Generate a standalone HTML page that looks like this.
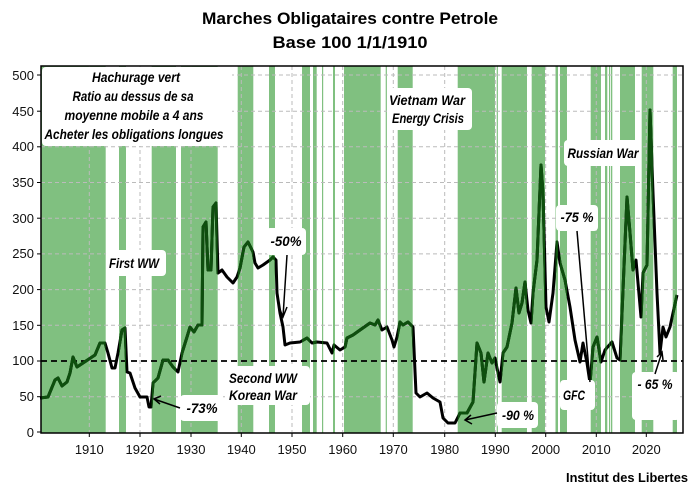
<!DOCTYPE html>
<html><head><meta charset="utf-8"><style>
body{margin:0;background:#fff}
svg{display:block}
text{font-family:"Liberation Sans",sans-serif}
.lab{font-weight:bold;font-style:italic;font-size:14px;text-anchor:middle}
.ax{font-size:13px;fill:#111}
</style></head><body>
<svg width="700" height="497" viewBox="0 0 700 497" xmlns="http://www.w3.org/2000/svg">
<defs>
<clipPath id="bands">
<rect x="41" y="66" width="64.7" height="367"/><rect x="119" y="66" width="7" height="367"/>
<rect x="151.7" y="66" width="24.3" height="367"/><rect x="181" y="66" width="36.7" height="367"/>
<rect x="237.7" y="66" width="15.6" height="367"/><rect x="269" y="66" width="6" height="367"/>
<rect x="302" y="66" width="8" height="367"/><rect x="313" y="66" width="3.7" height="367"/>
<rect x="322" y="66" width="1.2" height="367"/><rect x="333" y="66" width="2" height="367"/>
<rect x="344" y="66" width="36.7" height="367"/><rect x="385.7" y="66" width="1.2" height="367"/>
<rect x="397.7" y="66" width="15" height="367"/><rect x="457.7" y="66" width="37.3" height="367"/>
<rect x="496.7" y="66" width="1.2" height="367"/><rect x="501.7" y="66" width="25.3" height="367"/>
<rect x="531.7" y="66" width="13.3" height="367"/><rect x="555.5" y="66" width="2.5" height="367"/>
<rect x="560" y="66" width="7" height="367"/><rect x="590.7" y="66" width="10.3" height="367"/>
<rect x="605" y="66" width="2.3" height="367"/><rect x="609" y="66" width="1.2" height="367"/>
<rect x="611" y="66" width="1.3" height="367"/><rect x="620" y="66" width="15" height="367"/>
<rect x="641.7" y="66" width="11.6" height="367"/><rect x="672.7" y="66" width="4.3" height="367"/>
</clipPath>
</defs>
<text x="350" y="24" text-anchor="middle" font-size="17" font-weight="bold" textLength="296" lengthAdjust="spacingAndGlyphs">Marches Obligataires contre Petrole</text>
<text x="350" y="48" text-anchor="middle" font-size="17" font-weight="bold" textLength="155" lengthAdjust="spacingAndGlyphs">Base 100 1/1/1910</text>
<rect x="41" y="66" width="642" height="367" fill="#80c080" clip-path="url(#bands)"/>
<g stroke="#bbb" stroke-width="1" stroke-dasharray="4,3">
<line x1="41" x2="683" y1="75" y2="75"/><line x1="41" x2="683" y1="111.2" y2="111.2"/>
<line x1="41" x2="683" y1="146.8" y2="146.8"/><line x1="41" x2="683" y1="182.5" y2="182.5"/>
<line x1="41" x2="683" y1="218.2" y2="218.2"/><line x1="41" x2="683" y1="253.9" y2="253.9"/>
<line x1="41" x2="683" y1="289.6" y2="289.6"/><line x1="41" x2="683" y1="325.3" y2="325.3"/>
<line x1="41" x2="683" y1="396.7" y2="396.7"/>
<line x1="89.3" x2="89.3" y1="66" y2="432"/><line x1="140" x2="140" y1="66" y2="432"/>
<line x1="191" x2="191" y1="66" y2="432"/><line x1="241.3" x2="241.3" y1="66" y2="432"/>
<line x1="292" x2="292" y1="66" y2="432"/><line x1="342.7" x2="342.7" y1="66" y2="432"/>
<line x1="393.3" x2="393.3" y1="66" y2="432"/><line x1="444.7" x2="444.7" y1="66" y2="432"/>
<line x1="495.3" x2="495.3" y1="66" y2="432"/><line x1="545.7" x2="545.7" y1="66" y2="432"/>
<line x1="596.3" x2="596.3" y1="66" y2="432"/><line x1="646.3" x2="646.3" y1="66" y2="432"/>
</g>
<line x1="41" x2="683" y1="361" y2="361" stroke="#000" stroke-width="1.8" stroke-dasharray="6,4"/>
<g fill="none" stroke-width="3" stroke-linejoin="round">
<polyline stroke="#000" points="40,398 48,397 55,380 58,378 62,386 67,382 70,373 73,357 77,367 83,363 95,355 100,343 105,343 108,353 112,368 115,368 118,353 122,330 125,328 127,372 130,373 135,388 140,397 147,397 149,407 151,407 153,383 158,378 163,360 168,360 173,367 178,372 182,353 187,337 190,327 194,332 198,325 202,325 203,227 206,222 208,270 211,270 213,207 216,203 218,273 222,270 227,277 233,283 237,277 240,268 244,247 248,242 253,252 255,263 258,268 263,265 270,260 273,257 276,260 277,293 280,313 283,327 285,345 290,343 300,342 307,338 312,343 317,342 327,343 332,353 334,345 340,350 345,347 347,338 353,335 360,330 370,323 375,325 378,320 382,330 387,327 392,340 394,347 397,337 400,322 403,325 408,322 413,327 416,393 420,397 427,393 433,398 440,402 443,418 448,423 455,423 460,413 467,413 473,402 477,343 481,353 484,382 488,353 492,363 495,358 497,368 500,382 503,353 507,347 512,323 516,288 519,313 522,303 525,282 528,310 531,323 533,293 537,260 541,165 543,193 546,307 549,322 553,293 557,242 560,263 565,280 570,307 575,340 580,362 583,343 587,363 590,383 593,347 597,337 601,362 605,350 612,342 617,358 620,360 623,290 627,197 630,233 633,270 636,260 641,317 643,273 647,265 650,110 653,193 657,293 660,353 663,327 666,337 670,327 673,313 677,295"/>
<polyline stroke="#0e4f0e" clip-path="url(#bands)" points="40,398 48,397 55,380 58,378 62,386 67,382 70,373 73,357 77,367 83,363 95,355 100,343 105,343 108,353 112,368 115,368 118,353 122,330 125,328 127,372 130,373 135,388 140,397 147,397 149,407 151,407 153,383 158,378 163,360 168,360 173,367 178,372 182,353 187,337 190,327 194,332 198,325 202,325 203,227 206,222 208,270 211,270 213,207 216,203 218,273 222,270 227,277 233,283 237,277 240,268 244,247 248,242 253,252 255,263 258,268 263,265 270,260 273,257 276,260 277,293 280,313 283,327 285,345 290,343 300,342 307,338 312,343 317,342 327,343 332,353 334,345 340,350 345,347 347,338 353,335 360,330 370,323 375,325 378,320 382,330 387,327 392,340 394,347 397,337 400,322 403,325 408,322 413,327 416,393 420,397 427,393 433,398 440,402 443,418 448,423 455,423 460,413 467,413 473,402 477,343 481,353 484,382 488,353 492,363 495,358 497,368 500,382 503,353 507,347 512,323 516,288 519,313 522,303 525,282 528,310 531,323 533,293 537,260 541,165 543,193 546,307 549,322 553,293 557,242 560,263 565,280 570,307 575,340 580,362 583,343 587,363 590,383 593,347 597,337 601,362 605,350 612,342 617,358 620,360 623,290 627,197 630,233 633,270 636,260 641,317 643,273 647,265 650,110 653,193 657,293 660,353 663,327 666,337 670,327 673,313 677,295"/>
</g>
<rect x="41" y="66" width="642" height="367" fill="none" stroke="#000" stroke-width="1.5"/>
<g stroke="#000" stroke-width="1">
<line x1="37" x2="41" y1="75" y2="75"/><line x1="37" x2="41" y1="111.2" y2="111.2"/><line x1="37" x2="41" y1="146.8" y2="146.8"/><line x1="37" x2="41" y1="182.5" y2="182.5"/><line x1="37" x2="41" y1="218.2" y2="218.2"/><line x1="37" x2="41" y1="253.9" y2="253.9"/><line x1="37" x2="41" y1="289.6" y2="289.6"/><line x1="37" x2="41" y1="325.3" y2="325.3"/><line x1="37" x2="41" y1="361" y2="361"/><line x1="37" x2="41" y1="396.7" y2="396.7"/><line x1="37" x2="41" y1="432" y2="432"/>
<line x1="89.3" x2="89.3" y1="433" y2="437"/><line x1="140" x2="140" y1="433" y2="437"/><line x1="191" x2="191" y1="433" y2="437"/><line x1="241.3" x2="241.3" y1="433" y2="437"/><line x1="292" x2="292" y1="433" y2="437"/><line x1="342.7" x2="342.7" y1="433" y2="437"/><line x1="393.3" x2="393.3" y1="433" y2="437"/><line x1="444.7" x2="444.7" y1="433" y2="437"/><line x1="495.3" x2="495.3" y1="433" y2="437"/><line x1="545.7" x2="545.7" y1="433" y2="437"/><line x1="596.3" x2="596.3" y1="433" y2="437"/><line x1="646.3" x2="646.3" y1="433" y2="437"/>
</g>
<g class="ax" text-anchor="end">
<text x="34" y="80">500</text><text x="34" y="116">450</text><text x="34" y="151">400</text><text x="34" y="187">350</text><text x="34" y="223">300</text><text x="34" y="258">250</text><text x="34" y="294">200</text><text x="34" y="330">150</text><text x="34" y="365">100</text><text x="34" y="401">50</text><text x="34" y="437">0</text>
</g>
<g class="ax" text-anchor="middle">
<text x="89.3" y="454">1910</text><text x="140" y="454">1920</text><text x="191" y="454">1930</text><text x="241.3" y="454">1940</text><text x="292" y="454">1950</text><text x="342.7" y="454">1960</text><text x="393.3" y="454">1970</text><text x="444.7" y="454">1980</text><text x="495.3" y="454">1990</text><text x="545.7" y="454">2000</text><text x="596.3" y="454">2010</text><text x="646.3" y="454">2020</text>
</g>
<g fill="#fff">
<rect x="42" y="67" width="190" height="79" rx="4"/>
<rect x="106" y="250" width="60" height="26" rx="4"/>
<rect x="266" y="228" width="40" height="27" rx="4"/>
<rect x="180" y="395" width="43" height="26" rx="4"/>
<rect x="225" y="366" width="85" height="39" rx="4"/>
<rect x="387" y="88" width="85" height="42" rx="4"/>
<rect x="564" y="140" width="77" height="26" rx="4"/>
<rect x="556" y="205" width="42" height="26" rx="4"/>
<rect x="497" y="402" width="41" height="26" rx="4"/>
<rect x="560" y="380" width="35" height="30" rx="4"/>
<rect x="632" y="372" width="48" height="48" rx="4"/>
</g>
<g stroke="#000" stroke-width="1.5" fill="none">
<path d="M287 255 L283 317 M279 307 L283 317 L287 307"/>
<path d="M180 408 L154 399 M161 396 L154 399 L160 404"/>
<path d="M497 413 L465 420 M471 415 L465 420 L472 424"/>
<path d="M577 231 L590 382"/>
<path d="M655 374 L662 352 M657 357 L662 352 L663 360"/>
</g>
<g class="lab">
<text x="136" y="82" textLength="88" lengthAdjust="spacingAndGlyphs">Hachurage vert</text>
<text x="133" y="101" textLength="121" lengthAdjust="spacingAndGlyphs">Ratio au dessus de sa</text>
<text x="134" y="120" textLength="139" lengthAdjust="spacingAndGlyphs">moyenne mobile a 4 ans</text>
<text x="134" y="139" textLength="179" lengthAdjust="spacingAndGlyphs">Acheter les obligations longues</text>
<text x="134" y="268" textLength="50" lengthAdjust="spacingAndGlyphs">First WW</text>
<text x="286" y="246" textLength="31" lengthAdjust="spacingAndGlyphs">-50%</text>
<text x="202" y="413" textLength="31" lengthAdjust="spacingAndGlyphs">-73%</text>
<text x="263" y="383" textLength="68" lengthAdjust="spacingAndGlyphs">Second WW</text>
<text x="263" y="400" textLength="68" lengthAdjust="spacingAndGlyphs">Korean War</text>
<text x="427" y="105" textLength="76" lengthAdjust="spacingAndGlyphs">Vietnam War</text>
<text x="428" y="123" textLength="72" lengthAdjust="spacingAndGlyphs">Energy Crisis</text>
<text x="603" y="158" textLength="71" lengthAdjust="spacingAndGlyphs">Russian War</text>
<text x="577" y="222" textLength="33" lengthAdjust="spacingAndGlyphs">-75 %</text>
<text x="518" y="420" textLength="32" lengthAdjust="spacingAndGlyphs">-90 %</text>
<text x="574" y="400" textLength="22" lengthAdjust="spacingAndGlyphs">GFC</text>
<text x="655" y="389" textLength="35" lengthAdjust="spacingAndGlyphs">- 65 %</text>
</g>
<text x="688" y="482" text-anchor="end" font-size="13" font-weight="bold" textLength="122" lengthAdjust="spacingAndGlyphs">Institut des Libertes</text>
</svg>
</body></html>
